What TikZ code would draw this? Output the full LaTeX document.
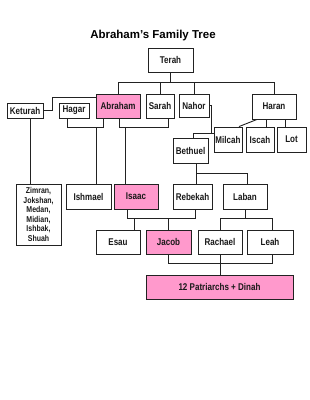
\documentclass[tikz,border=0pt]{standalone}
\usepackage{fontspec}
\setmainfont{Liberation Sans}
\newfontfamily\boxfont{Liberation Sans}[FakeStretch=0.82]
\definecolor{pinkfill}{HTML}{FF99CC}
\definecolor{linec}{HTML}{222222}
\begin{document}
\begin{tikzpicture}[x=1pt,y=-1pt,
  person/.style={draw=linec, line width=0.9pt, fill=white, inner sep=0pt,
    font=\boxfont\bfseries\fontsize{9.8}{11}\selectfont, text=black!90},
  pinkperson/.style={person, fill=pinkfill},
  conn/.style={draw=linec, line width=0.9pt}]
\useasboundingbox[fill=white] (0,0) rectangle (309,400);

\node[font=\bfseries\fontsize{11.5}{13}\selectfont] (title) at (153,36) {Abraham’s Family Tree};

\node[person, minimum width=45pt, minimum height=24pt] (terah) at (170.5,60) {Terah};
\node[pinkperson, minimum width=44pt, minimum height=24pt] (abraham) at (118,106) {Abraham};
\node[person, minimum width=28pt, minimum height=24pt] (sarah) at (160,106) {Sarah};
\node[person, minimum width=30pt, minimum height=23pt] (nahor) at (194,105.5) {Nahor};
\node[person, minimum width=44pt, minimum height=25pt] (haran) at (274,106.5) {Haran};
\node[person, minimum width=36pt, minimum height=15pt] (keturah) at (25,110.5) {Keturah};
\node[person, minimum width=30pt, minimum height=15pt] (hagar) at (74,110.5) {Hagar};
\node[person, minimum width=28pt, minimum height=25pt] (milcah) at (228,139.5) {Milcah};
\node[person, minimum width=28pt, minimum height=25pt] (iscah) at (260,139.5) {Iscah};
\node[person, minimum width=29pt, minimum height=25pt] (lot) at (291.5,139.5) {Lot};
\node[person, minimum width=35pt, minimum height=25pt] (bethuel) at (190.5,150.5) {Bethuel};
\node[person, minimum width=45pt, minimum height=61pt, align=center,
  font=\boxfont\bfseries\fontsize{8.5}{9.6}\selectfont] (zimran) at (38.5,214.5)
  {Zimran,\\Jokshan,\\Medan,\\Midian,\\Ishbak,\\Shuah};
\node[person, minimum width=45pt, minimum height=25pt] (ishmael) at (88.5,196.5) {Ishmael};
\node[pinkperson, minimum width=44pt, minimum height=25pt] (isaac) at (136,196.5) {Isaac};
\node[person, minimum width=39pt, minimum height=25pt] (rebekah) at (192.5,196.5) {Rebekah};
\node[person, minimum width=44pt, minimum height=25pt] (laban) at (245,196.5) {Laban};
\node[person, minimum width=44pt, minimum height=24pt] (esau) at (118,242) {Esau};
\node[pinkperson, minimum width=45pt, minimum height=24pt] (jacob) at (168.5,242) {Jacob};
\node[person, minimum width=44pt, minimum height=24pt] (rachael) at (220,242) {Rachael};
\node[person, minimum width=46pt, minimum height=24pt] (leah) at (270,242) {Leah};
\node[pinkperson, minimum width=147pt, minimum height=24pt] (patr) at (219.5,287) {12 Patriarchs + Dinah};

% helper coordinates
\coordinate (tbar) at (0,82);
\coordinate (hbar) at (96,127);
\coordinate (asbar) at (125,127);
\coordinate (nm) at (211,133);
\coordinate (bb) at (196,173);
\coordinate (ir1) at (134,218);
\coordinate (ir2) at (168,218);
\coordinate (lb) at (0,218);
\coordinate (jb) at (0,263);

% Terah's children
\draw[conn] (terah.south) -- (terah.south |- tbar);
\draw[conn] (abraham.north) |- (haran.north |- tbar) -- (haran.north);
\draw[conn] (sarah.north) -- (sarah.north |- tbar);
\draw[conn] (nahor.north) -- (nahor.north |- tbar);

% Keturah - Abraham
\draw[conn] (keturah.east) -- ++(9,0) |- ([yshift=9pt]abraham.west);
\draw[conn] ([xshift=5pt]keturah.south) -- ([xshift=5pt]keturah.south |- zimran.north);

% Hagar - Abraham
\draw[conn] ([xshift=-7pt]hagar.south) -- ++(0,9) -| ([xshift=-15pt]abraham.south);
\draw[conn] (hbar) -- (hbar |- ishmael.north);

% Abraham - Sarah
\draw[conn] ([xshift=1pt]abraham.south) -- ++(0,9) -| ([xshift=8pt]sarah.south);
\draw[conn] (asbar) -- (asbar |- isaac.north);

% Nahor - Milcah
\draw[conn] (nahor.east) -- ++(2,0) |- ([yshift=6.5pt]milcah.west);
\draw[conn] (nm) -| ([xshift=2.5pt]bethuel.north);

% Haran's children
\draw[conn] ([xshift=-17pt]haran.south) -- ([xshift=11pt]milcah.north);
\draw[conn] ([xshift=-8pt]haran.south) -- ([xshift=6pt]iscah.north);
\draw[conn] ([xshift=11pt]haran.south) -- ([xshift=-6.5pt]lot.north);

% Bethuel's children
\draw[conn] ([xshift=5.5pt]bethuel.south) -- ([xshift=3.5pt]rebekah.north);
\draw[conn] (bb) -| ([xshift=2pt]laban.north);

% Isaac - Rebekah
\draw[conn] ([xshift=-9pt]isaac.south) -- ++(0,9) -| ([xshift=2.5pt]rebekah.south);
\draw[conn] (ir1) -- (ir1 |- esau.north);
\draw[conn] (ir2) -- (ir2 |- jacob.north);

% Laban's children
\draw[conn] (laban.south) -- (laban.south |- lb);
\draw[conn] ([xshift=2pt]leah.north) |- (rachael.north |- lb) -- (rachael.north);

% Jacob - Rachael - Leah
\draw[conn] ([xshift=2pt]leah.south) |- (jacob.south |- jb) -- (jacob.south);
\draw[conn] (rachael.south) -- (rachael.south |- patr.north);
\end{tikzpicture}
\end{document}
